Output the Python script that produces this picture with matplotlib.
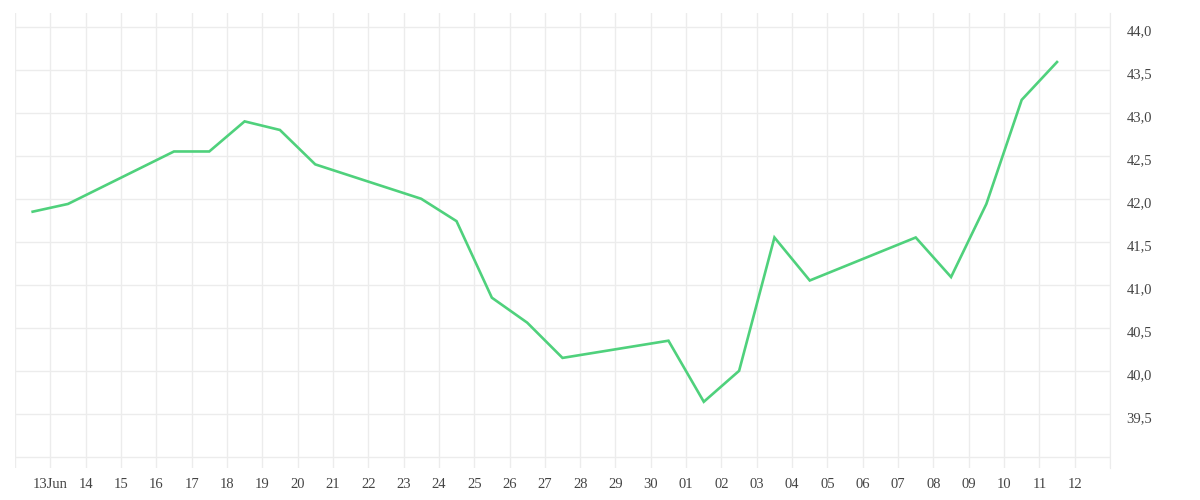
import datetime as dt
import matplotlib
matplotlib.use("Agg")
import matplotlib.pyplot as plt
import matplotlib.transforms as mtransforms
from matplotlib.ticker import FuncFormatter

# daily values (weekdays only), Jun 12 - Jul 11 2025
dates = [
    "2025-06-12", "2025-06-13",
    "2025-06-16", "2025-06-17", "2025-06-18", "2025-06-19", "2025-06-20",
    "2025-06-23", "2025-06-24", "2025-06-25", "2025-06-26", "2025-06-27",
    "2025-06-30", "2025-07-01", "2025-07-02", "2025-07-03", "2025-07-04",
    "2025-07-07", "2025-07-08", "2025-07-09", "2025-07-10", "2025-07-11",
]
values = [
    41.85, 41.94,
    42.55, 42.55, 42.90, 42.80, 42.40,
    42.00, 41.74, 40.85, 40.56, 40.15,
    40.35, 39.64, 40.00, 41.55, 41.05,
    41.55, 41.09, 41.94, 43.15, 43.59,
]
y_ticks = [39.5, 40.0, 40.5, 41.0, 41.5, 42.0, 42.5, 43.0, 43.5, 44.0]

LINE = "#4fd17c"
GRID = "#ececec"
TEXT = "#444444"

x = [dt.datetime.fromisoformat(d) + dt.timedelta(hours=12) for d in dates]
start = dt.datetime(2025, 6, 12)
end = dt.datetime(2025, 7, 13)

fig = plt.figure(figsize=(12, 5), dpi=100)
ax = fig.add_axes([15 / 1200, 32 / 500, 1095 / 1200, 455 / 500])
ax.plot(x, values, color=LINE, lw=1.9, solid_joinstyle="miter", zorder=3)

ax.set_xlim(start, end)
ax.set_ylim(38.87, 44.16)

day_grid = [start + dt.timedelta(days=i) for i in range(32)]
day_labels = []
for i, d in enumerate(day_grid):
    if i == 0 or i == len(day_grid) - 1:
        day_labels.append("")
    elif d.month == 6 and d.day == 13:
        day_labels.append("13Jun")
    else:
        day_labels.append(d.strftime("%d"))
ax.set_xticks(day_grid)
ax.set_xticklabels(day_labels)

ax.set_yticks([39.0] + y_ticks)
ax.yaxis.set_major_formatter(FuncFormatter(lambda v, p: "" if v < 39.25 else f"{v:.1f}".replace(".", ",")))
ax.yaxis.tick_right()

ax.grid(True, color=GRID, lw=1)
ax.tick_params(axis="x", length=0, pad=7, labelsize=10.5, labelcolor=TEXT)
ax.tick_params(axis="y", length=0, pad=12, labelsize=10.5, labelcolor=TEXT)
for lab in ax.get_xticklabels() + ax.get_yticklabels():
    lab.set_fontfamily("Liberation Serif")
shift = mtransforms.ScaledTranslation(0, -3 / 100, fig.dpi_scale_trans)
for lab in ax.get_yticklabels():
    lab.set_va("center_baseline")
    lab.set_transform(lab.get_transform() + shift)

for s in ["top", "left", "bottom"]:
    ax.spines[s].set_visible(False)
ax.spines["right"].set_color(GRID)

fig.savefig("out.png", dpi=100)
